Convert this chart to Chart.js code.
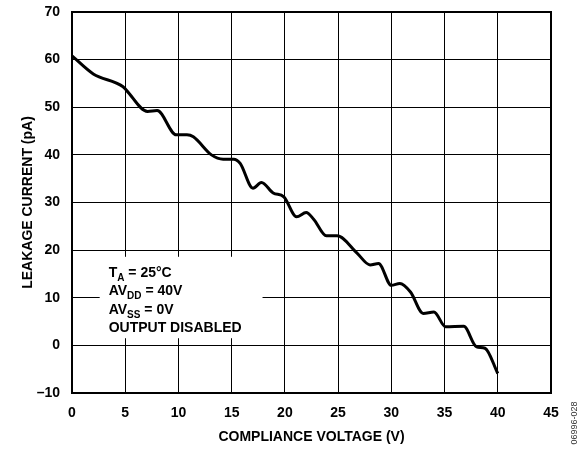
<!DOCTYPE html>
<html>
<head>
<meta charset="utf-8">
<script src="https://cdn.jsdelivr.net/npm/chart.js@4"></script>
<style>
  html, body { margin: 0; padding: 0; background: #fff; }
  #wrap { width: 580px; height: 450px; }
</style>
</head>
<body>
<div id="wrap"><canvas id="leakage" width="580" height="450"></canvas></div>
<script>
// compliance voltage (V) and leakage current (pA)
var voltage = [0, 2.0, 4.8, 5.1, 7.1, 8.0, 9.8, 10.8, 11.4, 13.1, 14.2, 15.2, 15.8, 17.0, 17.8, 18.9, 19.9,
               21.1, 22.0, 22.7, 23.9, 24.9, 26.8, 28.0, 28.8, 30.0, 30.8, 31.8, 33.0, 34.0, 35.1, 36.8,
               38.0, 38.8, 40.0];
var current = [60.8, 57.0, 54.3, 53.6, 49.1, 49.3, 44.2, 44.2, 43.8, 40.0, 39.1, 39.1, 38.2, 33.0, 34.2, 32.0, 31.2,
               27.0, 27.9, 26.5, 23.0, 23.0, 19.3, 16.9, 17.2, 12.6, 13.0, 11.2, 6.7, 7.0, 3.9, 4.0,
               -0.3, -0.6, -5.9];
var xTicks = [0, 5, 10, 15, 20, 25, 30, 35, 40, 45];
var yTicks = [-10, 0, 10, 20, 30, 40, 50, 60, 70];

var conditions = [
    ['T', 'A', ' = 25°C'],
    ['AV', 'DD', ' = 40V'],
    ['AV', 'SS', ' = 0V'],
    ['OUTPUT DISABLED', '', '']
];
var figureCode = '06996-028';

var FONT = '"Liberation Sans", Arial, Helvetica, sans-serif';

var points = voltage.map(function (v, i) { return { x: v, y: current[i] }; });

// white box with test conditions, plus frame and figure number
var extras = {
    id: 'extras',
    afterDatasetsDraw: function (chart) {
        var ctx = chart.ctx;
        var xs = chart.scales.x, ys = chart.scales.y;
        var area = chart.chartArea;

        var bx = xs.getPixelForValue(2.6), bx2 = xs.getPixelForValue(17.9);
        var by = ys.getPixelForValue(18.6), by2 = ys.getPixelForValue(1.5);
        ctx.save();
        ctx.fillStyle = '#fff';
        ctx.fillRect(bx, by, bx2 - bx, by2 - by);

        ctx.fillStyle = '#000';
        ctx.textBaseline = 'alphabetic';
        var tx = bx + 9;
        var ty = by + 20;
        conditions.forEach(function (c) {
            var x = tx;
            ctx.font = 'bold 14px ' + FONT;
            ctx.fillText(c[0], x, ty);
            x += ctx.measureText(c[0]).width;
            if (c[1]) {
                ctx.font = 'bold 10px ' + FONT;
                ctx.fillText(c[1], x, ty + 4);
                x += ctx.measureText(c[1]).width;
            }
            if (c[2]) {
                ctx.font = 'bold 14px ' + FONT;
                ctx.fillText(c[2], x, ty);
            }
            ty += 18.5;
        });

        ctx.strokeStyle = '#000';
        ctx.lineWidth = 2;
        ctx.strokeRect(area.left, area.top, area.right - area.left, area.bottom - area.top);

        ctx.translate(575, 423);
        ctx.rotate(-Math.PI / 2);
        ctx.font = '9px ' + FONT;
        ctx.fillStyle = '#333';
        ctx.textAlign = 'center';
        ctx.textBaseline = 'middle';
        ctx.fillText(figureCode, 0, 0);
        ctx.restore();
    }
};

var ctx = document.getElementById('leakage').getContext('2d');
var chart = new Chart(ctx, {
    type: 'line',
    data: {
        datasets: [{
            data: points,
            borderColor: '#000',
            borderWidth: 3,
            pointRadius: 0,
            cubicInterpolationMode: 'monotone',
            fill: false
        }]
    },
    options: {
        responsive: false,
        animation: false,
        events: [],
        layout: { padding: { top: 12, right: 29, left: 0, bottom: 0 } },
        plugins: {
            legend: { display: false },
            tooltip: { enabled: false }
        },
        scales: {
            x: {
                type: 'linear',
                min: 0,
                max: 45,
                afterBuildTicks: function (scale) {
                    scale.ticks = xTicks.map(function (v) { return { value: v }; });
                },
                afterFit: function (scale) { scale.height = 57; },
                grid: { color: '#000', lineWidth: 1, drawTicks: false },
                border: { display: false },
                ticks: {
                    color: '#000',
                    padding: 12,
                    maxRotation: 0,
                    font: { family: FONT, size: 14, weight: 'bold' }
                },
                title: {
                    display: true,
                    text: 'COMPLIANCE VOLTAGE (V)',
                    color: '#000',
                    padding: { top: 0, bottom: 4 },
                    font: { family: FONT, size: 14, weight: 'bold' }
                }
            },
            y: {
                type: 'linear',
                min: -10,
                max: 70,
                afterBuildTicks: function (scale) {
                    scale.ticks = yTicks.map(function (v) { return { value: v }; });
                },
                afterFit: function (scale) {
                    scale.width = 72;
                    scale.paddingTop = 0;
                    scale.paddingBottom = 0;
                },
                grid: { color: '#000', lineWidth: 1, drawTicks: false },
                border: { display: false },
                ticks: {
                    color: '#000',
                    padding: 12,
                    font: { family: FONT, size: 14, weight: 'bold' },
                    callback: function (v) { return v < 0 ? '\u2013' + Math.abs(v) : String(v); }
                },
                title: {
                    display: true,
                    text: 'LEAKAGE CURRENT (pA)',
                    color: '#000',
                    padding: { top: 20, bottom: 0 },
                    font: { family: FONT, size: 14, weight: 'bold' }
                }
            }
        }
    },
    plugins: [extras]
});
</script>
</body>
</html>
